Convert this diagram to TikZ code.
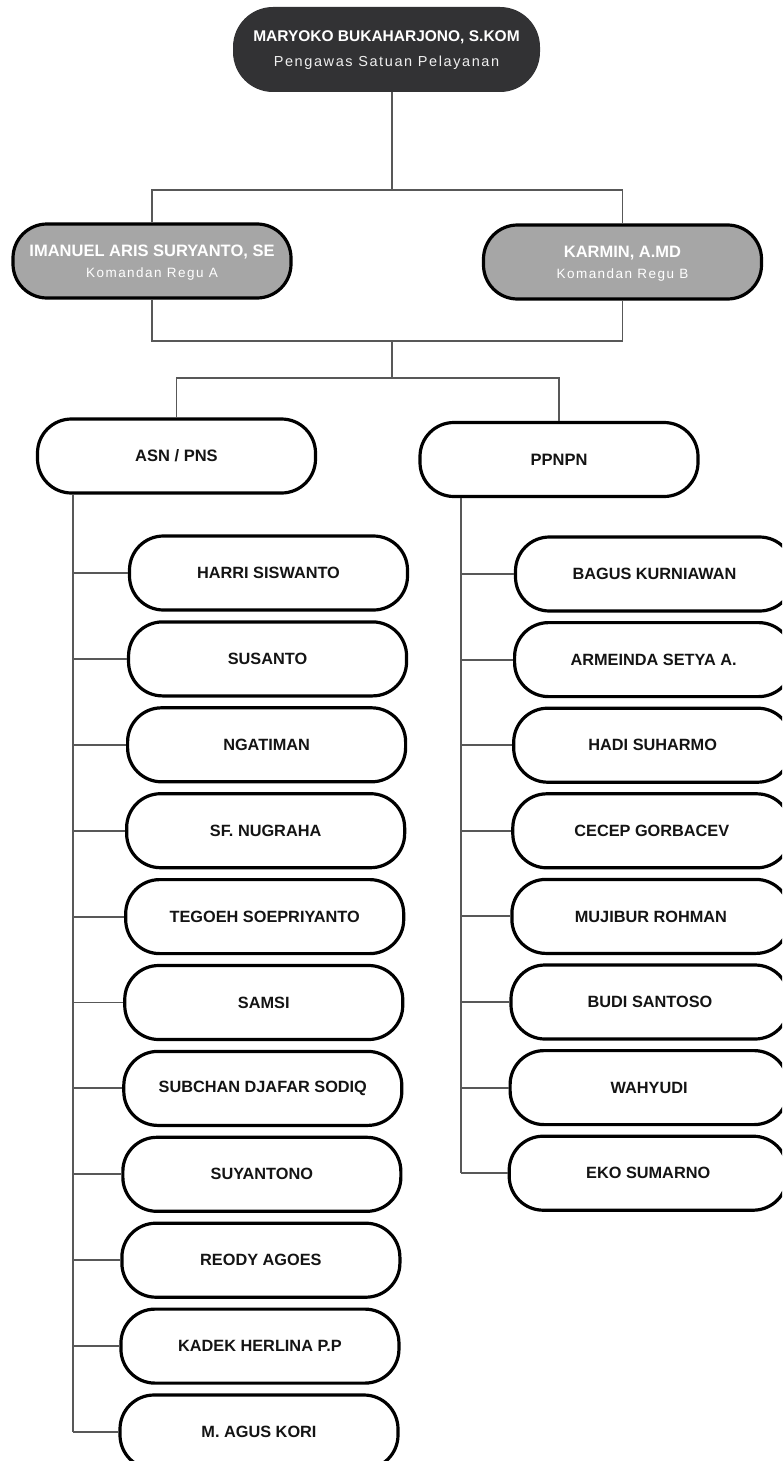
\documentclass[tikz,border=0pt]{standalone}
\usepackage{fontspec}
\setmainfont{Liberation Sans}
\newfontfamily\subfont[LetterSpace=11]{Liberation Sans}
\usepackage{tikz}
\usetikzlibrary{positioning}
\definecolor{dchar}{RGB}{50,50,52}
\definecolor{dgray}{RGB}{88,88,88}
\definecolor{mgray}{RGB}{166,166,166}
\definecolor{dink}{RGB}{20,20,20}
\tikzset{
  pill/.style={rounded corners=34pt,minimum height=74pt,inner sep=0pt,align=center},
  chief/.style={pill,fill=dchar,minimum width=307pt,minimum height=85pt,rounded corners=40pt},
  regu/.style={pill,draw=black,line width=3.2pt,fill=mgray,minimum width=278pt},
  grp/.style={pill,draw=black,line width=3.2pt,fill=white,minimum width=278pt,text=dink,
    font=\fontsize{16.5}{18}\selectfont\bfseries},
  member/.style={grp,font=\fontsize{16.3}{18}\selectfont\bfseries},
  link/.style={dgray,line width=1.9pt},
  ttl/.style={text=white,font=\fontsize{15.5}{17}\selectfont\bfseries},
  sub/.style={text=white!94!black,font=\subfont\fontsize{14.5}{16}\selectfont}
}

\begin{document}
\begin{tikzpicture}[x=1pt,y=-1pt]
  \useasboundingbox (0,0) rectangle (782,1461);
  \clip (0,0) rectangle (782,1461);
  % head
  \node[chief] (chief) at (386.5,49.5) {};
  \node[ttl] (chiefname) at ([yshift=12.5pt]chief.center) {MARYOKO BUKAHARJONO, S.KOM};
  \node[sub] (chiefsub) at ([yshift=-13.5pt]chief.center) {Pengawas Satuan Pelayanan};
  % regu
  \node[regu] (reguA) at (152,261) {};
  \node[ttl,font=\fontsize{16.5}{18}\selectfont\bfseries] (reguAname) at ([yshift=9pt]reguA.center) {IMANUEL ARIS SURYANTO, SE};
  \node[sub,text=white,font=\subfont\fontsize{13.5}{15}\selectfont] (reguAsub) at ([yshift=-13pt]reguA.center) {Komandan Regu A};
  \node[regu] (reguB) at (622.5,262) {};
  \node[ttl,font=\fontsize{16.5}{18}\selectfont\bfseries] (reguBname) at ([yshift=9pt]reguB.center) {KARMIN, A.MD};
  \node[sub,text=white,font=\subfont\fontsize{13.5}{15}\selectfont] (reguBsub) at ([yshift=-13pt]reguB.center) {Komandan Regu B};
  \coordinate (j1) at (392,190);
  \coordinate (j2) at (392,341);
  \coordinate (j3) at (392,378);
  \draw[link] (j1 |- chief.south) -- (j1);
  \draw[link] (j1) -| (reguA.north);
  \draw[link] (j1) -| (reguB.north);
  \draw[link] (reguA.south) |- (j2) -| (reguB.south);
  \draw[link] (j2) -- (j3);
  % groups
  \node[grp] (asn) at (176.5,456) {ASN / PNS};
  \node[grp] (ppnpn) at (559,459.5) {PPNPN};
  \draw[link] (j3) -| (asn.north);
  \draw[link] (j3) -| (ppnpn.north);
  \coordinate (abar) at (73,500);
  \coordinate (pbar) at (461,500);
  % members
  \foreach \nm [count=\i] in {HARRI SISWANTO,SUSANTO,NGATIMAN,SF. NUGRAHA,
      TEGOEH SOEPRIYANTO,SAMSI,SUBCHAN DJAFAR SODIQ,SUYANTONO,REODY AGOES,
      KADEK HERLINA P.P,M. AGUS KORI}{
    \node[member] (a\i) at ({268.5-0.95*(\i-1)},{573+85.9*(\i-1)}) {\nm};
    \draw[link] (a\i.west) -- (a\i.west -| abar);
  }
  \foreach \nm [count=\i] in {BAGUS KURNIAWAN,ARMEINDA SETYA A.,HADI SUHARMO,
      CECEP GORBACEV,MUJIBUR ROHMAN,BUDI SANTOSO,WAHYUDI,EKO SUMARNO}{
    \node[member] (p\i) at ({654.5-0.9*(\i-1)},{574+85.6*(\i-1)}) {\nm};
    \draw[link] (p\i.west) -- (p\i.west -| pbar);
  }
  \draw[link] (asn.south -| abar) -- (a11.west -| abar);
  \draw[link] (ppnpn.south -| pbar) -- (p8.west -| pbar);
\end{tikzpicture}
\end{document}
